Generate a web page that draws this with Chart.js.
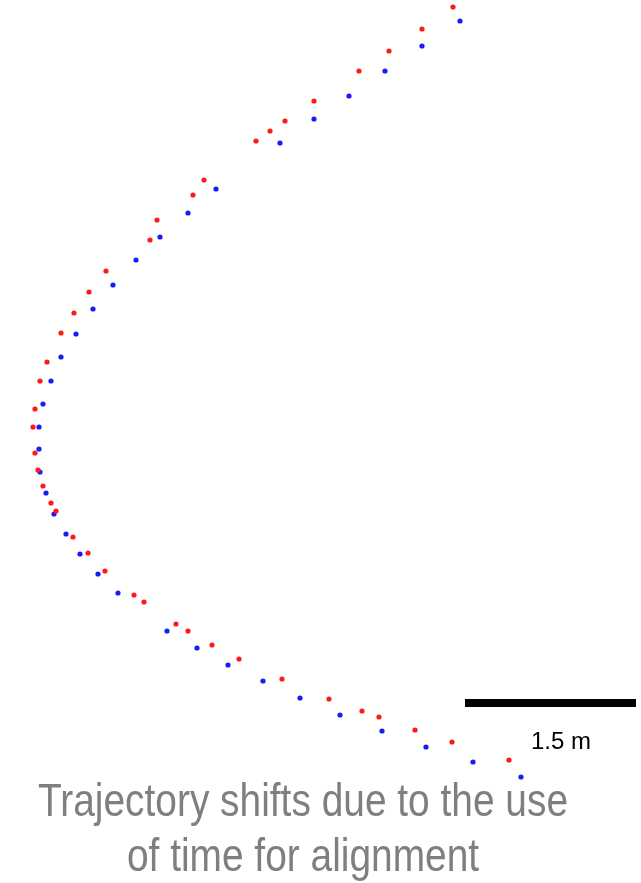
<!DOCTYPE html>
<html>
<head>
<meta charset="utf-8">
<script src="https://cdn.jsdelivr.net/npm/chart.js@4"></script>
<style>
    html, body { margin: 0; padding: 0; background: #fff; }
    #wrap { position: relative; width: 641px; height: 883px; overflow: hidden; }
    #chart { display: block; }
    #caption {
        position: absolute; left: -47px; top: 773px; width: 700px; white-space: nowrap;
        font-family: "Liberation Sans", Arial, sans-serif; font-size: 46px; line-height: 55px;
        color: #7f7f7f; text-align: center; transform: scaleX(0.845); transform-origin: 50% 0;
    }
</style>
</head>
<body>
<div id="wrap">
    <canvas id="chart" width="641" height="883"></canvas>
    <div id="caption">Trajectory shifts due to the use<br>of time for alignment</div>
</div>
<script>
// Trayectorias en unidades del plano (1.5 m = 171 unidades)
const redX = [453, 422, 389, 359, 314, 285, 270, 256, 204, 193, 157, 150, 106, 89, 74, 61, 47, 40, 35, 33, 35, 38, 43, 51, 56, 73, 88, 105, 134, 144, 176, 188, 212, 239, 282, 329, 362, 379, 415, 452, 509];
const redY = [7, 29, 51, 71, 101, 121, 131, 141, 180, 195, 220, 240, 271, 292, 313, 333, 362, 381, 409, 427, 453, 470, 486, 503, 511, 537, 553, 571, 595, 602, 624, 631, 645, 659, 679, 699, 711, 717, 730, 742, 760];
const blueX = [460, 422, 385, 349, 314, 280, 216, 188, 160, 136, 113, 93, 76, 61, 51, 43, 39, 39, 40, 46, 54, 66, 80, 98, 118, 167, 197, 228, 263, 300, 340, 382, 426, 473, 521];
const blueY = [21, 46, 71, 96, 119, 143, 189, 213, 237, 260, 285, 309, 334, 357, 381, 404, 427, 449, 472, 493, 514, 534, 554, 574, 593, 631, 648, 665, 681, 698, 715, 731, 747, 762, 777];

// Barra de escala
const barX = [465, 636];
const barY = [703, 703];
const barLabel = '1.5 m';
const barLabelPos = [531, 749];

const RED = '#ff1a1a';
const BLUE = '#1a1aff';

function toPoints(xs, ys) {
    return xs.map((x, i) => ({ x, y: ys[i] }));
}

const scaleLabel = {
    id: 'scaleLabel',
    afterDatasetsDraw(chart) {
        const { ctx, scales } = chart;
        ctx.save();
        ctx.fillStyle = '#000';
        ctx.font = '24px "Liberation Sans", Arial, sans-serif';
        ctx.textBaseline = 'alphabetic';
        ctx.fillText(barLabel, scales.x.getPixelForValue(barLabelPos[0]), scales.y.getPixelForValue(barLabelPos[1]));
        ctx.restore();
    },
};

new Chart(document.getElementById('chart'), {
    type: 'scatter',
    data: {
        datasets: [
            {
                label: 'Rojo',
                data: toPoints(redX, redY),
                backgroundColor: RED,
                borderWidth: 0,
                pointRadius: 2.6,
                clip: false,
            },
            {
                label: 'Azul',
                data: toPoints(blueX, blueY),
                backgroundColor: BLUE,
                borderWidth: 0,
                pointRadius: 2.6,
                clip: false,
            },
            {
                label: 'Escala',
                data: toPoints(barX, barY),
                showLine: true,
                borderColor: '#000',
                borderWidth: 8,
                borderCapStyle: 'butt',
                pointRadius: 0,
                clip: false,
            },
        ],
    },
    options: {
        responsive: false,
        animation: false,
        layout: { padding: 0, autoPadding: false },
        plugins: { legend: { display: false }, tooltip: { enabled: false } },
        scales: {
            x: { type: 'linear', min: 0, max: 641, display: false },
            y: { type: 'linear', min: 0, max: 883, reverse: true, display: false },
        },
    },
    plugins: [scaleLabel],
});
</script>
</body>
</html>
